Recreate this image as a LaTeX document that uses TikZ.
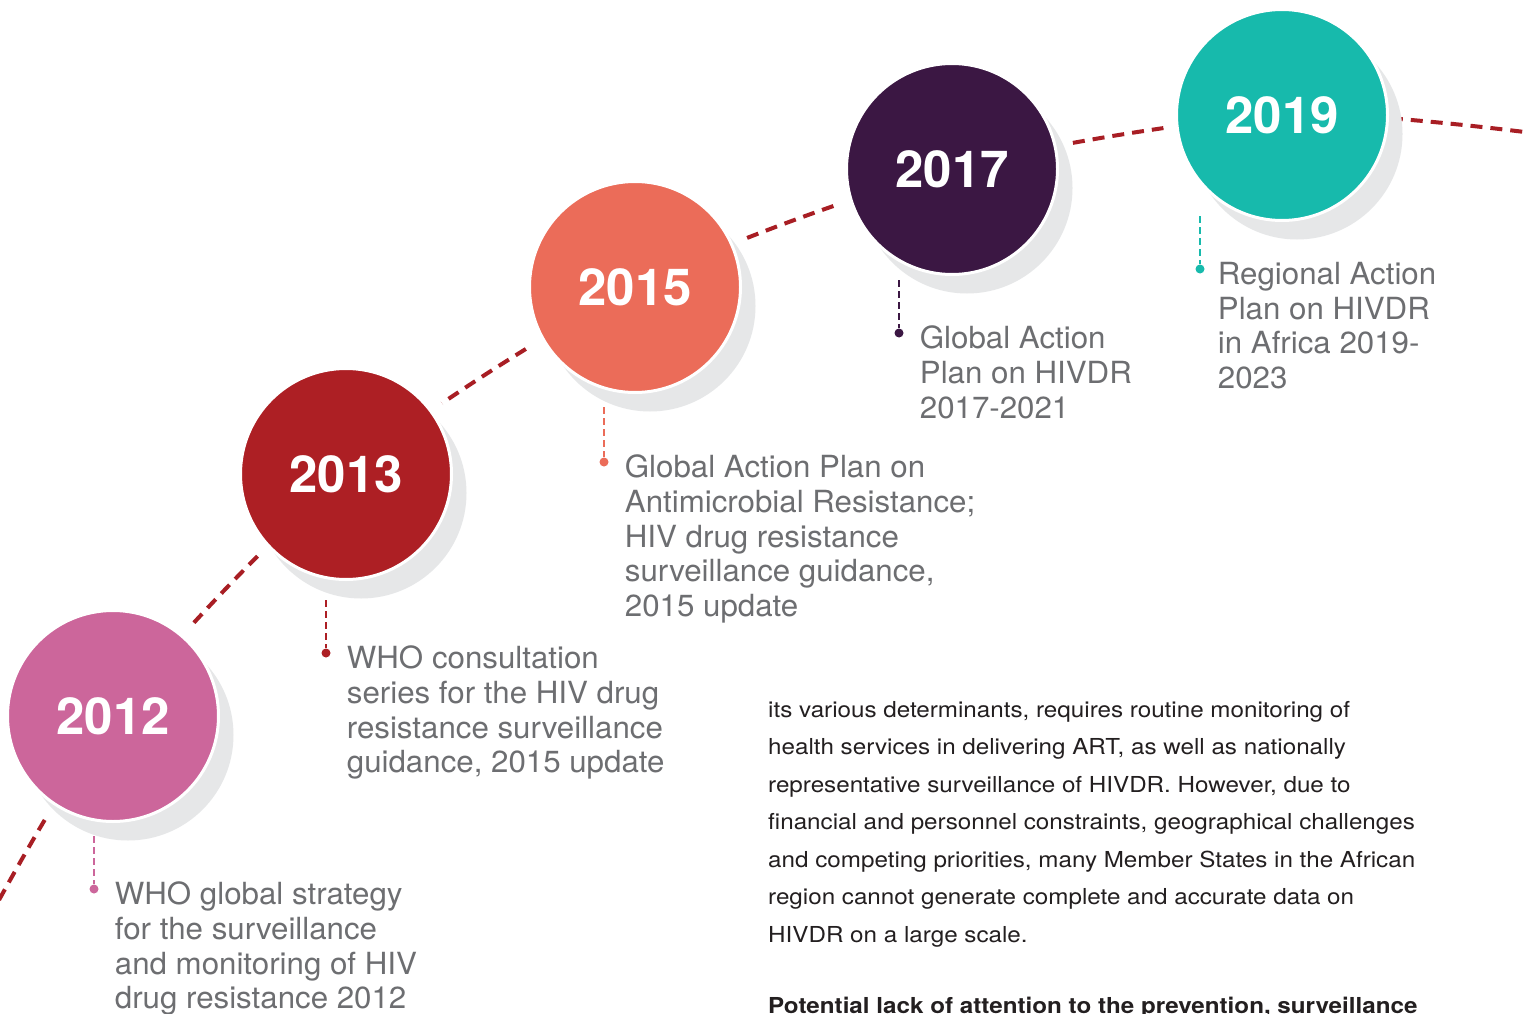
\documentclass[tikz,border=0pt]{standalone}
\usepackage{fontspec}
\setmainfont{TeX Gyre Heros}
\newfontfamily\notefont[FakeStretch=1.025]{TeX Gyre Heros}
\newfontfamily\bodyfont[FakeStretch=1.1]{TeX Gyre Heros}
\usetikzlibrary{shadows,positioning}
\definecolor{pinkY}{RGB}{204,102,155}
\definecolor{redY}{RGB}{173,31,36}
\definecolor{salmonY}{RGB}{235,108,89}
\definecolor{plumY}{RGB}{59,23,67}
\definecolor{tealY}{RGB}{23,186,172}
\definecolor{lineRed}{RGB}{168,30,36}
\definecolor{shade}{RGB}{230,231,232}
\definecolor{noteGray}{RGB}{109,110,113}
\definecolor{bodyText}{RGB}{35,31,32}
\pgfdeclarelayer{back}
\pgfsetlayers{back,main}

\begin{document}
\begin{tikzpicture}[x=1pt,y=-1pt,
  yearball/.style={circle,minimum size=211pt,inner sep=0pt,fill=#1,draw=white,line width=3pt,
    general shadow={fill=white,shadow scale=1.13},
    general shadow={fill=shade,shadow xshift=15pt,shadow yshift=-19pt},
    text=white,font=\fontsize{51}{51}\selectfont\bfseries},
  bullet/.style={circle,fill=#1,minimum size=9pt,inner sep=0pt},
  dropline/.style={#1,line width=2.5pt,dash pattern=on 7pt off 4pt},
  note/.style={right=16pt of #1,anchor=north west,yshift=7pt,align=left,inner sep=0pt,
    text=noteGray,font=\notefont\fontsize{30.5}{34.6}\selectfont},
  timeline/.style={lineRed,line width=4pt,dash pattern=on 12pt off 8pt}]
\useasboundingbox (0,0) rectangle (1528,1014);

% the five years
\node[yearball=pinkY] (y2012) at (113,716) {2012};
\node[yearball=redY] (y2013) at (346,474) {2013};
\node[yearball=salmonY] (y2015) at (635,287) {2015};
\node[yearball=plumY] (y2017) at (952,169) {2017};
\node[yearball=tealY] (y2019) at (1282,115) {2019};

% dashed arc behind the balls
\coordinate (lineIn) at (-20,935);
\coordinate (lineOut) at (1548,135);
\begin{pgfonlayer}{back}
\fill[white] (0,0) rectangle (1528,1014);
\draw[timeline] plot[smooth] coordinates {(lineIn) (y2012.center) (y2013.center)
  (y2015.center) (y2017.center) (y2019.center) (lineOut)};
\end{pgfonlayer}

% drops and notes
\coordinate (t2012) at (94,836);
\node[bullet=pinkY] (b2012) at (94,889) {};
\draw[dropline=pinkY] (t2012) -- (b2012);
\node[note=b2012] (n2012) {WHO global strategy\\for the surveillance\\and monitoring of HIV\\drug resistance 2012};

\coordinate (t2013) at (326,600);
\node[bullet=redY] (b2013) at (326,653) {};
\draw[dropline=redY] (t2013) -- (b2013);
\node[note=b2013] (n2013) {WHO consultation\\series for the HIV drug\\resistance surveillance\\guidance, 2015 update};

\coordinate (t2015) at (604,407);
\node[bullet=salmonY] (b2015) at (604,462) {};
\draw[dropline=salmonY] (t2015) -- (b2015);
\node[note=b2015] (n2015) {Global Action Plan on\\Antimicrobial Resistance;\\HIV drug resistance\\surveillance guidance,\\2015 update};

\coordinate (t2017) at (899,280);
\node[bullet=plumY] (b2017) at (899,333) {};
\draw[dropline=plumY] (t2017) -- (b2017);
\node[note=b2017] (n2017) {Global Action\\Plan on HIVDR\\2017-2021};

\coordinate (t2019) at (1200,216);
\node[bullet=tealY] (b2019) at (1200,269) {};
\draw[dropline=tealY] (t2019) -- (b2019);
\node[note=b2019,xshift=-3pt] (n2019) {Regional Action\\Plan on HIVDR\\in Africa 2019-\\2023};

% running text
\node[anchor=north west,inner sep=0pt,align=left,text=bodyText,
  font=\bodyfont\fontsize{22}{37.5}\selectfont] (body) at (768,701)
  {its various determinants, requires routine monitoring of\\
   health services in delivering ART, as well as nationally\\
   representative surveillance of HIVDR. However, due to\\
   financial and personnel constraints, geographical challenges\\
   and competing priorities, many Member States in the African\\
   region cannot generate complete and accurate data on\\
   HIVDR on a large scale.\\[34pt]
   \textbf{Potential lack of attention to the prevention, surveillance}};
\end{tikzpicture}
\end{document}
